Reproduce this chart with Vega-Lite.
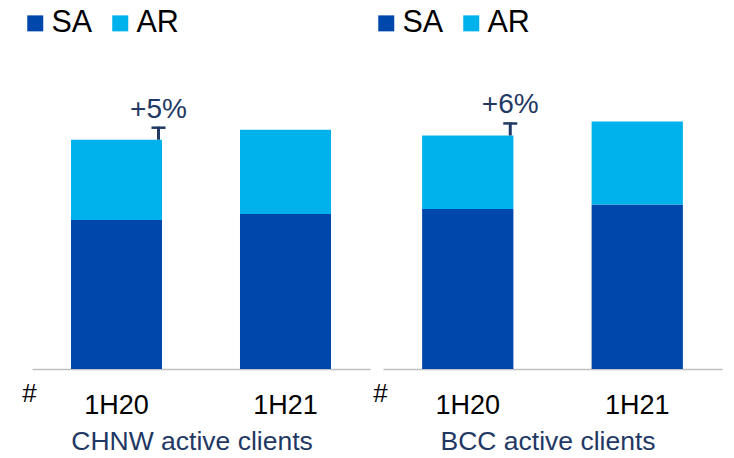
{
  "$schema": "https://vega.github.io/schema/vega-lite/v6.json",
  "padding": {"left": 20, "top": 8, "right": 5, "bottom": 5},
  "config": {
    "view": {"stroke": null},
    "font": "Liberation Sans",
    "axisX": {"domainColor": "#BFBFBF", "domainWidth": 1.5, "ticks": false, "tickSize": 0, "grid": false, "labelFontSize": 27, "labelColor": "black", "labelPadding": 23, "labelAngle": 0, "titleFontSize": 26, "titleFontWeight": "normal", "titleColor": "black", "titleX": -3, "titleY": 32, "titleAlign": "center", "titleBaseline": "alphabetic", "titleAngle": 0},
    "legend": {"orient": "none", "legendX": -12, "legendY": -61, "direction": "horizontal", "title": null, "symbolType": "square", "symbolSize": 256, "symbolStrokeWidth": 0, "labelFontSize": 30.5, "labelColor": "black", "labelOffset": 1, "columnPadding": 12},
    "title": {"orient": "bottom", "fontSize": 26.5, "fontWeight": "normal", "color": "#1F3864", "anchor": "middle", "offset": 11}
  },
  "datasets": {
    "chnw": [
      {"period": "1H20", "series": "SA", "value": 149},
      {"period": "1H20", "series": "AR", "value": 80.3},
      {"period": "1H21", "series": "SA", "value": 155},
      {"period": "1H21", "series": "AR", "value": 84.3}
    ],
    "bcc": [
      {"period": "1H20", "series": "SA", "value": 160},
      {"period": "1H20", "series": "AR", "value": 73.6},
      {"period": "1H21", "series": "SA", "value": 164.6},
      {"period": "1H21", "series": "AR", "value": 83}
    ],
    "chnw_ann": [{"period": "1H20", "total": 229.3, "label": "+5%"}],
    "bcc_ann": [{"period": "1H20", "total": 233.6, "label": "+6%"}]
  },
  "resolve": {"scale": {"color": "independent"}, "legend": {"color": "independent"}},
  "spacing": 1,
  "hconcat": [
    {
      "width": 338,
      "height": 300,
      "title": {"text": "CHNW active clients", "dx": -9},
      "encoding": {
        "x": {"field": "period", "type": "nominal", "title": "#", "scale": {"paddingInner": 0.4615, "paddingOuter": 0.2308}}
      },
      "layer": [
        {
          "data": {"name": "chnw"},
          "mark": {"type": "bar"},
          "encoding": {
            "y": {"field": "value", "type": "quantitative", "stack": "zero", "scale": {"domain": [0, 300]}, "axis": null},
            "color": {"field": "series", "type": "nominal", "sort": ["SA", "AR"], "scale": {"domain": ["SA", "AR"], "range": ["#0047AB", "#00B2EB"]}}
          }
        },
        {
          "data": {"name": "chnw_ann"},
          "mark": {"type": "tick", "orient": "vertical", "size": 13, "thickness": 3, "xOffset": 42, "yOffset": -6.5, "color": "#1F3864", "opacity": 1},
          "encoding": {"y": {"field": "total", "type": "quantitative", "axis": null}}
        },
        {
          "data": {"name": "chnw_ann"},
          "mark": {"type": "tick", "orient": "horizontal", "size": 14, "thickness": 2.5, "xOffset": 42, "yOffset": -12, "color": "#1F3864", "opacity": 1},
          "encoding": {"y": {"field": "total", "type": "quantitative", "axis": null}}
        },
        {
          "data": {"name": "chnw_ann"},
          "mark": {"type": "text", "dx": 42, "dy": -22, "baseline": "alphabetic", "align": "center", "fontSize": 28, "color": "#1F3864"},
          "encoding": {"y": {"field": "total", "type": "quantitative", "axis": null}, "text": {"field": "label"}}
        }
      ]
    },
    {
      "width": 339,
      "height": 300,
      "title": {"text": "BCC active clients", "dx": -4.5},
      "encoding": {
        "x": {"field": "period", "type": "nominal", "title": "#", "scale": {"paddingInner": 0.4615, "paddingOuter": 0.2308}}
      },
      "layer": [
        {
          "data": {"name": "bcc"},
          "mark": {"type": "bar"},
          "encoding": {
            "y": {"field": "value", "type": "quantitative", "stack": "zero", "scale": {"domain": [0, 300]}, "axis": null},
            "color": {"field": "series", "type": "nominal", "sort": ["SA", "AR"], "scale": {"domain": ["SA", "AR"], "range": ["#0047AB", "#00B2EB"]}}
          }
        },
        {
          "data": {"name": "bcc_ann"},
          "mark": {"type": "tick", "orient": "vertical", "size": 13, "thickness": 3, "xOffset": 42.5, "yOffset": -6.5, "color": "#1F3864", "opacity": 1},
          "encoding": {"y": {"field": "total", "type": "quantitative", "axis": null}}
        },
        {
          "data": {"name": "bcc_ann"},
          "mark": {"type": "tick", "orient": "horizontal", "size": 14, "thickness": 2.5, "xOffset": 42.5, "yOffset": -12, "color": "#1F3864", "opacity": 1},
          "encoding": {"y": {"field": "total", "type": "quantitative", "axis": null}}
        },
        {
          "data": {"name": "bcc_ann"},
          "mark": {"type": "text", "dx": 42.5, "dy": -22, "baseline": "alphabetic", "align": "center", "fontSize": 28, "color": "#1F3864"},
          "encoding": {"y": {"field": "total", "type": "quantitative", "axis": null}, "text": {"field": "label"}}
        }
      ]
    }
  ]
}
